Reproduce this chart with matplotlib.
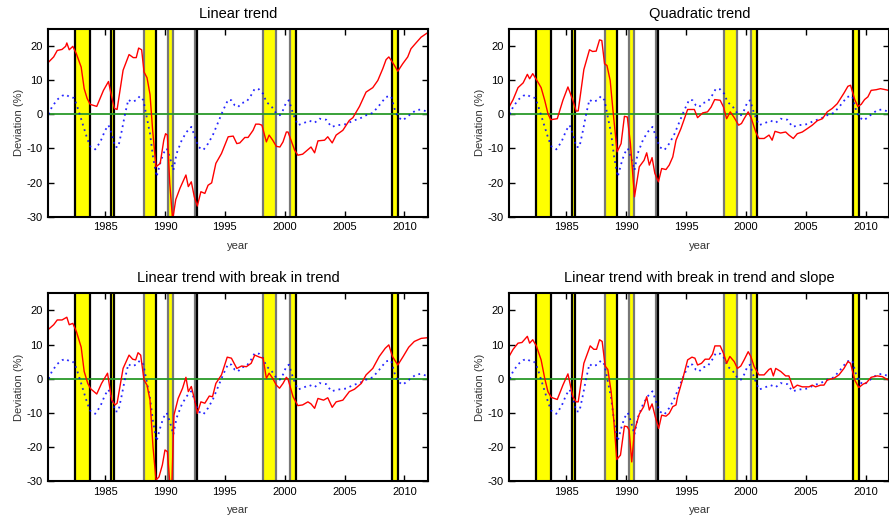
import matplotlib.pyplot as plt

plt.rcParams['font.family'] = ['Liberation Sans', 'DejaVu Sans']
plt.rcParams['axes.unicode_minus'] = False

# recession bands (start, end) and colours of their edge lines
bands = [(1982.5, 1983.75), (1985.5, 1985.72), (1988.25, 1989.25), (1990.22, 1990.7),
         (1992.47, 1992.7), (1998.2, 1999.25), (2000.42, 2000.97), (2008.95, 2009.45)]
band_edges = [('k', 'k'), ('k', 'k'), ('#777777', 'k'), ('#777777', '#777777'),
              ('#777777', 'k'), ('#777777', '#777777'), ('#777777', 'k'), ('k', 'k')]

# reference cycle (blue dotted, same in all panels)
ref_years = [1980.28, 1980.55, 1981.0, 1981.4, 1981.7, 1982.1, 1982.4, 1982.64, 1982.9, 1983.2,
             1983.5, 1983.75, 1984.17, 1984.6, 1985.0, 1985.28, 1985.55, 1985.83, 1986.1, 1986.4,
             1986.67, 1986.94, 1987.2, 1987.6, 1987.9, 1988.2, 1988.5, 1988.75, 1989.0, 1989.3,
             1989.6, 1989.86, 1990.14, 1990.4, 1990.7, 1990.97, 1991.4, 1991.8, 1992.2, 1992.5,
             1992.8, 1993.2, 1993.6, 1994.0, 1994.4, 1994.86, 1995.28, 1995.55, 1995.83, 1996.1,
             1996.4, 1996.8, 1997.2, 1997.5, 1997.86, 1998.2, 1998.47, 1998.9, 1999.3, 1999.6,
             1999.86, 2000.14, 2000.36, 2000.7, 2001.1, 2001.5, 2002.07, 2002.5, 2002.9, 2003.47,
             2003.9, 2004.44, 2005.14, 2005.7, 2006.25, 2006.8, 2007.36, 2007.9, 2008.47, 2008.9,
             2009.17, 2009.45, 2009.86, 2010.4, 2010.97, 2011.4, 2011.94]
ref_vals = [0.0, 2.1, 4.3, 5.4, 5.8, 4.9, 4.8, 2.6, -0.3, -3.7,
            -7.1, -9.4, -10.3, -8.1, -4.7, -3.2, -5.7, -9.6, -9.6, -4.7,
            0.2, 4.3, 3.6, 4.1, 5.3, 4.1, -1.3, -5.7, -12.5, -18.3,
            -14.4, -11.5, -10.0, -12.5, -16.4, -11.5, -7.6, -5.2, -3.7, -6.6,
            -9.6, -10.5, -8.6, -6.1, -2.7, 1.2, 4.3, 4.1, 2.6, 2.1,
            3.3, 3.6, 5.6, 7.5, 7.3, 6.0, 3.6, 2.3, 0.2, -0.3,
            1.2, 3.6, 4.1, 0.2, -3.2, -2.7, -1.9, -2.5, -1.3, -1.6,
            -3.7, -3.2, -2.9, -1.9, -1.3, -0.3, 0.4, 2.6, 5.1, 5.3,
            1.7, -0.8, -1.8, -0.3, 1.2, 1.4, 0.7]

# linear trend
lin_years = [1980.28, 1980.7, 1981.0, 1981.4, 1981.7, 1981.8, 1982.0, 1982.3, 1982.6, 1983.0,
             1983.25, 1983.5, 1983.75, 1984.3, 1984.86, 1985.28, 1985.55, 1985.78, 1986.0, 1986.5,
             1987.0, 1987.35, 1987.6, 1987.8, 1988.05, 1988.25, 1988.5, 1988.75, 1988.97, 1989.25,
             1989.6, 1989.9, 1990.05, 1990.2, 1990.4, 1990.64, 1990.9, 1991.25, 1991.75, 1991.95,
             1992.2, 1992.45, 1992.7, 1993.0, 1993.33, 1993.6, 1993.9, 1994.25, 1994.72, 1995.28,
             1995.7, 1996.0, 1996.25, 1996.67, 1996.94, 1997.36, 1997.58, 1997.86, 1998.1, 1998.47,
             1998.7, 1999.0, 1999.3, 1999.6, 1999.86, 2000.14, 2000.28, 2000.83, 2001.1, 2001.5,
             2002.2, 2002.5, 2002.78, 2003.33, 2003.6, 2003.97, 2004.3, 2004.86, 2005.4, 2005.7,
             2006.25, 2006.8, 2007.36, 2007.78, 2008.2, 2008.47, 2008.7, 2008.9, 2009.17, 2009.45,
             2009.86, 2010.28, 2010.55, 2010.97, 2011.4, 2011.94]
lin_vals = [15.3, 16.8, 18.7, 19.0, 19.9, 20.9, 18.9, 19.9, 17.7, 13.8,
            7.5, 4.6, 2.9, 2.3, 7.0, 9.6, 5.0, 1.7, 1.4, 12.9,
            17.5, 16.6, 16.6, 19.4, 18.9, 12.4, 10.7, 5.8, -4.7, -15.4,
            -14.4, -7.6, -5.7, -6.1, -20.3, -31.0, -25.0, -21.7, -17.8, -21.2,
            -19.8, -24.2, -26.9, -22.7, -23.2, -20.8, -20.1, -14.4, -11.5, -6.6,
            -6.4, -8.6, -8.4, -6.8, -6.8, -4.7, -2.9, -2.9, -3.2, -8.1,
            -6.1, -7.6, -9.4, -9.6, -8.1, -5.2, -5.2, -10.5, -12.0, -11.7,
            -9.6, -11.3, -7.8, -7.6, -6.6, -8.4, -6.1, -4.7, -1.8, -1.0,
            2.3, 6.5, 7.8, 9.9, 13.4, 16.0, 16.8, 15.8, 14.3, 12.6,
            14.8, 16.8, 19.2, 20.9, 22.6, 23.9]

# quadratic trend
quad_years = [1980.22, 1980.56, 1980.97, 1981.4, 1981.75, 1981.94, 1982.2, 1982.5, 1982.9, 1983.2,
              1983.47, 1983.7, 1984.25, 1984.72, 1985.14, 1985.55, 1985.83, 1986.0, 1986.47, 1986.94,
              1987.2, 1987.5, 1987.78, 1987.97, 1988.2, 1988.4, 1988.67, 1988.9, 1989.25, 1989.58,
              1989.86, 1990.1, 1990.36, 1990.7, 1991.1, 1991.5, 1991.72, 1991.94, 1992.17, 1992.4,
              1992.7, 1992.97, 1993.33, 1993.6, 1993.9, 1994.17, 1994.58, 1995.14, 1995.7, 1995.97,
              1996.4, 1996.8, 1997.1, 1997.4, 1997.86, 1998.14, 1998.4, 1998.7, 1999.0, 1999.4,
              1999.64, 1999.86, 2000.2, 2000.47, 2000.83, 2001.1, 2001.53, 2001.94, 2002.2, 2002.44,
              2002.9, 2003.33, 2003.6, 2003.97, 2004.3, 2004.72, 2005.14, 2005.55, 2005.97, 2006.4,
              2006.8, 2007.22, 2007.64, 2008.2, 2008.53, 2008.75, 2009.1, 2009.36, 2009.64, 2009.92,
              2010.2, 2010.47, 2010.9, 2011.25, 2011.67, 2011.94]
quad_vals = [2.1, 4.3, 7.8, 9.2, 11.7, 10.4, 11.9, 10.2, 7.8, 4.1,
             0.2, -1.6, -1.3, 4.1, 8.0, 4.1, 0.9, 1.0, 13.1, 18.9,
             18.4, 18.5, 21.8, 21.6, 14.8, 14.3, 9.9, 1.2, -11.0, -8.6,
             -0.6, -0.8, -8.6, -24.2, -15.4, -13.5, -11.3, -14.9, -12.7, -17.3,
             -19.8, -15.9, -16.2, -14.9, -12.5, -7.6, -4.2, 1.4, 1.4, -1.0,
             0.4, 0.7, 2.1, 4.3, 4.1, 2.1, -1.3, 0.7, -0.8, -3.2,
             -2.7, -1.3, 0.7, -1.3, -5.2, -7.1, -7.1, -6.1, -7.6, -5.0,
             -5.5, -5.2, -6.1, -7.1, -5.7, -5.2, -4.2, -3.2, -1.9, -1.3,
             0.7, 1.7, 3.1, 6.2, 8.2, 8.5, 4.3, 2.3, 2.9, 4.3,
             5.1, 7.0, 7.2, 7.5, 7.2, 7.0]

# linear trend with break in trend
brk_years = [1980.28, 1980.7, 1981.0, 1981.4, 1981.8, 1982.0, 1982.3, 1982.6, 1983.0, 1983.25,
             1983.55, 1983.8, 1984.3, 1984.7, 1985.2, 1985.55, 1985.83, 1986.0, 1986.5, 1987.0,
             1987.3, 1987.55, 1987.75, 1987.97, 1988.25, 1988.5, 1988.75, 1989.0, 1989.25, 1989.5,
             1989.78, 1990.0, 1990.2, 1990.4, 1990.58, 1990.75, 1991.1, 1991.47, 1991.75, 1991.95,
             1992.2, 1992.45, 1992.7, 1993.0, 1993.33, 1993.7, 1993.97, 1994.25, 1994.72, 1995.2,
             1995.55, 1996.0, 1996.4, 1996.8, 1997.2, 1997.5, 1997.9, 1998.2, 1998.47, 1998.7,
             1999.0, 1999.3, 1999.57, 1999.86, 2000.14, 2000.28, 2000.7, 2001.1, 2001.5, 2001.94,
             2002.2, 2002.5, 2002.78, 2003.25, 2003.6, 2003.97, 2004.3, 2004.86, 2005.4, 2005.83,
             2006.4, 2006.8, 2007.36, 2007.9, 2008.4, 2008.7, 2009.0, 2009.45, 2009.9, 2010.36,
             2010.83, 2011.4, 2011.94]
brk_vals = [14.5, 15.8, 17.2, 17.2, 18.0, 15.8, 16.2, 13.8, 9.2, 2.1,
            -1.4, -3.0, -4.5, -1.4, 1.6, -6.3, -7.7, -7.2, 3.0, 6.9,
            5.7, 5.5, 7.6, 6.9, -0.4, -1.9, -6.3, -20.0, -29.7, -28.8,
            -25.3, -20.9, -21.4, -30.5, -30.5, -10.7, -5.8, -2.8, 0.4, -3.8,
            -2.3, -5.8, -10.2, -6.8, -7.2, -5.1, -5.3, -1.4, 1.1, 6.3,
            6.0, 3.0, 3.7, 3.5, 4.5, 6.9, 6.3, 6.0, 0.1, 1.6,
            0.1, -1.9, -2.8, -1.4, 0.4, -0.2, -5.3, -7.9, -7.7, -6.8,
            -7.4, -8.7, -5.8, -6.3, -5.6, -8.4, -6.8, -6.3, -3.8, -3.1,
            -1.4, 1.1, 3.0, 6.5, 8.9, 9.9, 6.5, 4.0, 6.5, 9.2,
            10.9, 11.8, 12.0]

# linear trend with break in trend and slope
slope_years = [1980.22, 1980.56, 1980.97, 1981.3, 1981.75, 1981.94, 1982.2, 1982.5, 1982.9, 1983.2,
               1983.47, 1983.75, 1984.25, 1984.72, 1985.14, 1985.55, 1985.83, 1986.0, 1986.47, 1987.0,
               1987.3, 1987.53, 1987.78, 1988.0, 1988.25, 1988.47, 1988.75, 1988.97, 1989.22, 1989.53,
               1989.86, 1990.1, 1990.25, 1990.47, 1990.7, 1991.1, 1991.47, 1991.72, 1991.94, 1992.17,
               1992.44, 1992.72, 1992.97, 1993.33, 1993.6, 1993.9, 1994.17, 1994.3, 1994.72, 1995.14,
               1995.5, 1995.75, 1995.97, 1996.3, 1996.6, 1996.94, 1997.22, 1997.42, 1997.86, 1998.14,
               1998.4, 1998.67, 1999.03, 1999.3, 1999.58, 1999.86, 2000.2, 2000.42, 2000.7, 2001.1,
               2001.53, 2001.94, 2002.1, 2002.3, 2002.5, 2002.92, 2003.33, 2003.6, 2003.97, 2004.3,
               2004.72, 2005.28, 2005.55, 2005.83, 2006.25, 2006.53, 2006.8, 2007.36, 2007.78, 2008.2,
               2008.53, 2008.75, 2009.1, 2009.44, 2009.8, 2010.08, 2010.47, 2010.97, 2011.4, 2011.8,
               2012.0]
slope_vals = [6.5, 8.6, 10.4, 10.6, 12.4, 10.4, 11.4, 9.6, 5.5, 0.1,
              -3.8, -5.5, -6.1, -1.9, 1.4, -5.3, -6.8, -6.8, 4.5, 9.6,
              8.6, 8.6, 11.4, 10.9, 3.7, 2.7, -3.8, -12.1, -23.7, -22.4,
              -13.9, -14.1, -15.1, -24.4, -15.3, -10.4, -8.2, -5.3, -9.2, -7.4,
              -11.2, -14.6, -10.7, -11.0, -10.2, -8.2, -7.7, -5.3, -0.2, 5.5,
              6.3, 6.0, 4.0, 4.5, 5.7, 5.7, 7.2, 9.6, 9.6, 7.4,
              4.5, 6.5, 5.0, 3.0, 3.7, 5.5, 7.9, 6.5, 3.5, 1.1,
              1.1, 2.7, 3.0, 0.8, 3.0, 2.1, 0.8, 0.8, -2.8, -1.9,
              -2.4, -2.4, -1.9, -2.4, -1.9, -1.9, -0.4, 0.1, 1.1, 3.0,
              5.0, 4.5, -0.4, -2.6, -1.6, -1.2, 0.4, 0.8, 0.6, -0.2,
              -0.4]

titles = ['Linear trend', 'Quadratic trend',
          'Linear trend with break in trend', 'Linear trend with break in trend and slope']
series = [(lin_years, lin_vals), (quad_years, quad_vals),
          (brk_years, brk_vals), (slope_years, slope_vals)]

fig = plt.figure(figsize=(8.89, 5.17), dpi=100)
rects = [[0.0543, 0.581, 0.4275, 0.363], [0.573, 0.581, 0.4275, 0.363],
         [0.0543, 0.0696, 0.4275, 0.363], [0.573, 0.0696, 0.4275, 0.363]]

for rect, title, (yrs, vals) in zip(rects, titles, series):
    ax = fig.add_axes(rect)

    # shaded recessions with edge lines
    for (a, b), (ca, cb) in zip(bands, band_edges):
        ax.axvspan(a, b, color='#ffff00', lw=0, zorder=1)
        ax.axvline(a, color=ca, lw=1.6, zorder=2)
        ax.axvline(b, color=cb, lw=1.6, zorder=2)

    ax.axhline(0, color='#2a9a2a', lw=1.3, zorder=3)
    ax.plot(ref_years, ref_vals, color='blue', lw=1.3, ls=(0, (1, 2.2)), alpha=0.85, zorder=4)
    ax.plot(yrs, vals, color='red', lw=1.0, zorder=5)

    ax.set_xlim(1980.25, 2012.0)
    ax.set_ylim(-30, 25)
    ax.set_xticks([1985, 1990, 1995, 2000, 2005, 2010])
    ax.set_yticks([-30, -20, -10, 0, 10, 20])
    ax.tick_params(direction='in', top=True, right=True, length=4, width=1,
                   labelsize=8, colors='black', pad=4)
    for sp in ax.spines.values():
        sp.set_linewidth(1.5)
        sp.set_zorder(6)

    ax.set_title(title, fontsize=10.5, pad=8)
    ax.set_xlabel('year', fontsize=8, labelpad=6, color='#333333')
    ax.set_ylabel('Deviation (%)', fontsize=8, labelpad=2, color='#333333')

fig.savefig('out.png', dpi=100)
